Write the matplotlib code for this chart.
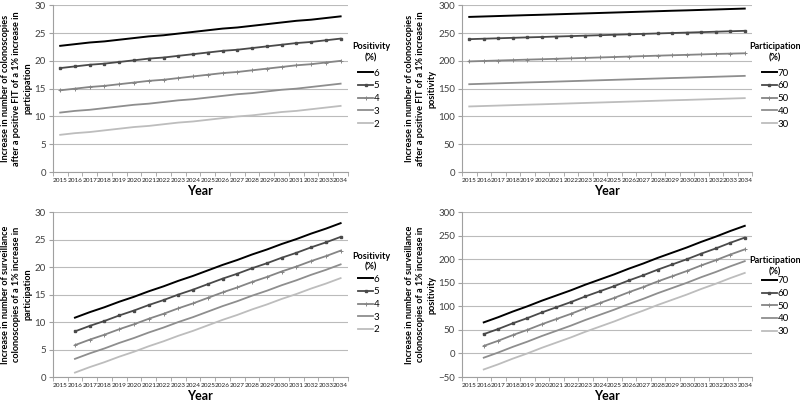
import numpy as np
import matplotlib
matplotlib.use('Agg')
import matplotlib.pyplot as plt

plt.rcParams['font.family'] = ['Lato', 'DejaVu Sans']

# --- Data ---
years = [str(y) for y in range(2015, 2035)]

# top left: colonoscopies after positive FIT, +1% participation (by positivity)
tl_labels = ['6', '5', '4', '3', '2']
tl_6 = [22.7, 23.0, 23.3, 23.5, 23.8, 24.1, 24.4, 24.6, 24.9, 25.2, 25.5, 25.8, 26.0, 26.3, 26.6, 26.9, 27.2, 27.4, 27.7, 28.0]
tl_5 = [18.7, 19.0, 19.3, 19.5, 19.8, 20.1, 20.4, 20.6, 20.9, 21.2, 21.5, 21.8, 22.0, 22.3, 22.6, 22.9, 23.2, 23.4, 23.7, 24.0]
tl_4 = [14.7, 15.0, 15.3, 15.5, 15.8, 16.1, 16.4, 16.6, 16.9, 17.2, 17.5, 17.8, 18.0, 18.3, 18.6, 18.9, 19.2, 19.4, 19.7, 20.0]
tl_3 = [10.7, 11.0, 11.2, 11.5, 11.8, 12.1, 12.3, 12.6, 12.9, 13.1, 13.4, 13.7, 14.0, 14.2, 14.5, 14.8, 15.0, 15.3, 15.6, 15.9]
tl_2 = [6.7, 7.0, 7.2, 7.5, 7.8, 8.1, 8.3, 8.6, 8.9, 9.1, 9.4, 9.7, 10.0, 10.2, 10.5, 10.8, 11.0, 11.3, 11.6, 11.9]

# top right: colonoscopies after positive FIT, +1% positivity (by participation)
tr_labels = ['70', '60', '50', '40', '30']
tr_70 = [279.0, 279.8, 280.6, 281.4, 282.2, 282.9, 283.7, 284.5, 285.3, 286.1, 286.9, 287.7, 288.5, 289.3, 290.1, 290.8, 291.6, 292.4, 293.2, 294.0]
tr_60 = [239.0, 239.8, 240.6, 241.4, 242.2, 242.9, 243.7, 244.5, 245.3, 246.1, 246.9, 247.7, 248.5, 249.3, 250.1, 250.8, 251.6, 252.4, 253.2, 254.0]
tr_50 = [199.0, 199.8, 200.6, 201.4, 202.2, 202.9, 203.7, 204.5, 205.3, 206.1, 206.9, 207.7, 208.5, 209.3, 210.1, 210.8, 211.6, 212.4, 213.0, 213.6]
tr_40 = [158.0, 158.8, 159.6, 160.4, 161.2, 161.9, 162.7, 163.5, 164.3, 165.1, 165.9, 166.7, 167.5, 168.3, 169.1, 169.8, 170.6, 171.4, 172.2, 173.0]
tr_30 = [118.0, 118.8, 119.6, 120.4, 121.2, 121.9, 122.7, 123.5, 124.3, 125.1, 125.9, 126.7, 127.5, 128.3, 129.1, 129.8, 130.6, 131.4, 132.2, 133.0]

# bottom left: surveillance colonoscopies, +1% participation (no 2015 value)
bl_6 = [None, 10.8, 11.8, 12.7, 13.7, 14.6, 15.6, 16.5, 17.5, 18.4, 19.4, 20.4, 21.3, 22.3, 23.2, 24.2, 25.1, 26.1, 27.0, 28.0]
bl_5 = [None, 8.3, 9.3, 10.2, 11.2, 12.1, 13.1, 14.0, 15.0, 15.9, 16.9, 17.9, 18.8, 19.8, 20.7, 21.7, 22.6, 23.6, 24.5, 25.5]
bl_4 = [None, 5.8, 6.8, 7.7, 8.7, 9.6, 10.6, 11.5, 12.5, 13.4, 14.4, 15.4, 16.3, 17.3, 18.2, 19.2, 20.1, 21.1, 22.0, 23.0]
bl_3 = [None, 3.3, 4.3, 5.2, 6.2, 7.1, 8.1, 9.0, 10.0, 10.9, 11.9, 12.9, 13.8, 14.8, 15.7, 16.7, 17.6, 18.6, 19.5, 20.5]
bl_2 = [None, 0.8, 1.8, 2.7, 3.7, 4.6, 5.6, 6.5, 7.5, 8.4, 9.4, 10.4, 11.3, 12.3, 13.2, 14.2, 15.1, 16.1, 17.0, 18.0]

# bottom right: surveillance colonoscopies, +1% positivity
br_70 = [None, 66, 77, 89, 100, 112, 123, 134, 146, 157, 168, 180, 191, 203, 214, 225, 237, 248, 260, 271]
br_60 = [None, 41, 52, 64, 75, 87, 98, 109, 121, 132, 143, 155, 166, 178, 189, 200, 212, 223, 235, 246]
br_50 = [None, 16, 27, 39, 50, 62, 73, 84, 96, 107, 118, 130, 141, 153, 164, 175, 187, 198, 210, 221]
br_40 = [None, -9, 2, 14, 25, 37, 48, 59, 71, 82, 93, 105, 116, 128, 139, 150, 162, 173, 185, 196]
br_30 = [None, -34, -23, -11, 0, 12, 23, 34, 46, 57, 68, 80, 91, 103, 114, 125, 137, 148, 160, 171]

# line styles: black, dark with squares, grey with plus, mid grey, light grey
styles = [
    dict(color='#000000', lw=1.4),
    dict(color='#4a4a4a', lw=1.3, marker='s', ms=1.6),
    dict(color='#858585', lw=1.3, marker='+', ms=3, mew=0.7),
    dict(color='#8e8e8e', lw=1.3),
    dict(color='#bdbdbd', lw=1.3),
]


def panel(ax, series, labels, title, ylim, ystep, ylabel, title_y, leg_y):
    x = np.arange(len(years))
    for s, lab, st in zip(series, labels, styles):
        yv = np.array([np.nan if v is None else v for v in s], dtype=float)
        ax.plot(x, yv, label=lab, **st)
    ax.set_xlim(-0.5, len(years) - 0.5)
    ax.set_ylim(*ylim)
    ax.set_yticks(np.arange(ylim[0], ylim[1] + 1, ystep))
    ax.set_xticks(x)
    ax.set_xticklabels(years, fontsize=4.6)
    ax.set_xticks(np.arange(-0.5, len(years)), minor=True)
    ax.tick_params(axis='x', which='major', length=0, pad=4)
    ax.tick_params(axis='x', which='minor', length=3, color='#a0a0a0')
    ax.tick_params(axis='y', labelsize=7, length=3, pad=2, color='#a0a0a0', colors='#404040')
    ax.tick_params(axis='x', labelcolor='#202020')
    ax.grid(axis='y', color='#bbbbbb', lw=0.8)
    ax.set_axisbelow(True)
    for sp in ['top', 'right']:
        ax.spines[sp].set_visible(False)
    for sp in ['left', 'bottom']:
        ax.spines[sp].set_color('#a0a0a0')
    ax.set_xlabel('Year', fontsize=9, fontweight='bold', labelpad=2)
    ax.set_ylabel(ylabel, fontsize=6.6, fontweight='bold', linespacing=1.3, labelpad=1.5)
    ax.legend(loc='center left', bbox_to_anchor=(1.035, leg_y),
              frameon=False, fontsize=7, handlelength=1.5, handletextpad=0.1,
              labelspacing=0.38, borderaxespad=0, borderpad=0)
    ax.text(1.078, title_y, title, transform=ax.transAxes, ha='center', va='center',
            fontsize=6.5, fontweight='bold', linespacing=1.3)


fig = plt.figure(figsize=(8, 4.03), dpi=100)
ax1 = fig.add_axes([0.066, 0.573, 0.369, 0.414])
ax2 = fig.add_axes([0.5775, 0.573, 0.3625, 0.414])
ax3 = fig.add_axes([0.066, 0.0645, 0.369, 0.409])
ax4 = fig.add_axes([0.5775, 0.0645, 0.3625, 0.409])

panel(ax1, [tl_6, tl_5, tl_4, tl_3, tl_2], tl_labels, 'Positivity\n(%)', (0, 30), 5,
      'Increase in number of colonoscopies\nafter a positive FIT of a 1% increase in\nparticipation',
      0.72, 0.44)
panel(ax2, [tr_70, tr_60, tr_50, tr_40, tr_30], tr_labels, 'Participation\n(%)', (0, 300), 50,
      'Increase in number of colonoscopies\nafter a positive FIT of a 1% increase in\npositivity',
      0.72, 0.44)
panel(ax3, [bl_6, bl_5, bl_4, bl_3, bl_2], tl_labels, 'Positivity\n(%)', (0, 30), 5,
      'Increase in number of surveillance\ncolonoscopies of a 1% increase in\nparticipation',
      0.70, 0.44)
panel(ax4, [br_70, br_60, br_50, br_40, br_30], tr_labels, 'Participation\n(%)', (-50, 300), 50,
      'Increase in number of surveillance\ncolonoscopies of a 1% increase in\npositivity',
      0.67, 0.43)

fig.savefig('out.png', dpi=100)
